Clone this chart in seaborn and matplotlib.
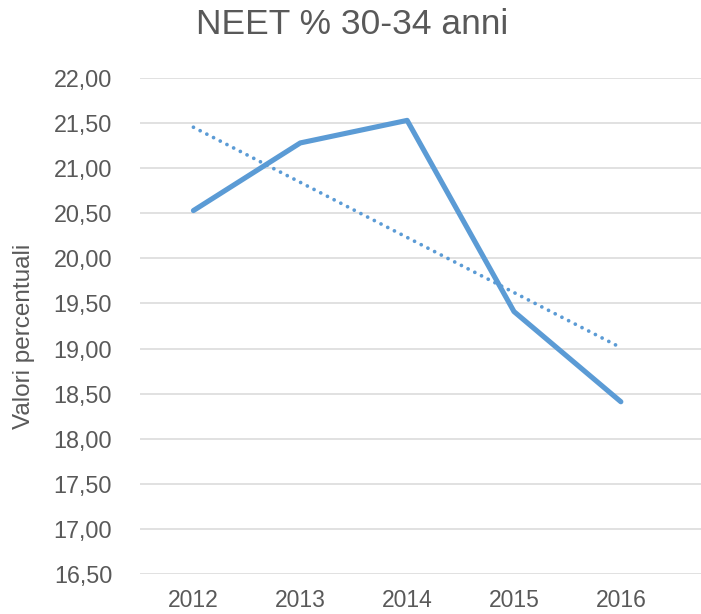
import numpy as np
import pandas as pd
import matplotlib
matplotlib.use("Agg")
import matplotlib.pyplot as plt
import seaborn as sns
from matplotlib.ticker import FuncFormatter, MultipleLocator

# Data
anni = ["2012", "2013", "2014", "2015", "2016"]
neet_30_34 = [20.53, 21.28, 21.53, 19.41, 18.41]

title = "NEET % 30-34 anni"
ylabel = "Valori percentuali"

sns.set_style("white")
plt.rcParams['font.family'] = ['Liberation Sans', 'DejaVu Sans']

blue = "#5B9BD5"
grey_text = "#595959"

df = pd.DataFrame({"pos": np.arange(len(anni)), "valore": neet_30_34})

# linear trend line (like Excel's "linear trendline")
slope, intercept = np.polyfit(df["pos"], df["valore"], 1)
df["trend"] = intercept + slope * df["pos"]

fig = plt.figure(figsize=(7.01, 6.14), dpi=100)
ax = fig.add_axes([140 / 701, 40 / 614, 561 / 701, 496 / 614])

sns.lineplot(data=df, x="pos", y="trend", ax=ax, color=blue, linewidth=2.7,
             linestyle=(0, (0.01, 2.0)), dash_capstyle="round", zorder=3)
sns.lineplot(data=df, x="pos", y="valore", ax=ax, color=blue, linewidth=3.7,
             solid_capstyle="round", solid_joinstyle="round", zorder=4)

ax.set_xlim(-0.5, 4.75)
ax.set_ylim(16.5, 22.0)
ax.yaxis.set_major_locator(MultipleLocator(0.5))
ax.yaxis.set_major_formatter(FuncFormatter(lambda v, p: f"{v:.2f}".replace(".", ",")))
ax.set_xticks(df["pos"])
ax.set_xticklabels(anni)

ax.grid(axis="y", color="#D9D9D9", linewidth=1.1)
ax.grid(axis="x", visible=False)
for s in ax.spines.values():
    s.set_visible(False)

ax.tick_params(axis="y", length=0, pad=20, labelsize=16.8, labelcolor=grey_text)
ax.tick_params(axis="x", length=0, pad=11, labelsize=16.5, labelcolor=grey_text)

ax.set_xlabel("")
ax.set_ylabel(ylabel, fontsize=17.5, color=grey_text)
ax.yaxis.set_label_coords(-0.187, 0.48)

fig.text(0.502, 1 - 25 / 614, title, ha="center", va="center",
         fontsize=25.5, color=grey_text)

fig.savefig("out.png", dpi=100)
